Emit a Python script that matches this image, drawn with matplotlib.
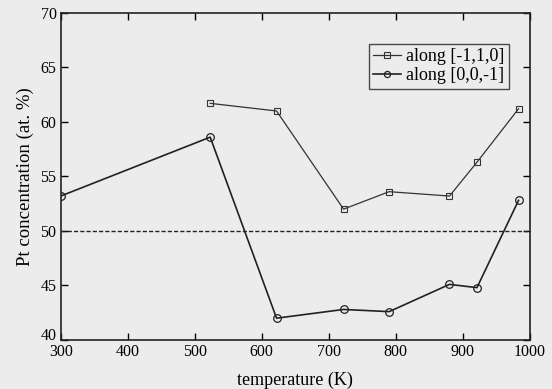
import matplotlib.pyplot as plt
from matplotlib.transforms import ScaledTranslation

# data
temp_sq = [523, 622, 722, 790, 880, 921, 983]
pt_sq = [61.7, 61.0, 52.0, 53.6, 53.2, 56.3, 61.2]

temp_ci = [300, 523, 622, 722, 790, 880, 921, 983]
pt_ci = [53.2, 58.6, 42.0, 42.8, 42.6, 45.1, 44.8, 52.8]

xticks = [300, 400, 500, 600, 700, 800, 900, 1000]
yticks = [40, 45, 50, 55, 60, 65, 70]

plt.rcParams['font.family'] = ['Liberation Serif', 'DejaVu Serif']

bg = '#ececec'
fig = plt.figure(figsize=(5.52, 3.89), dpi=100, facecolor=bg)
ax = fig.add_axes([0.11, 0.126, 0.85, 0.841])
ax.set_facecolor(bg)

ax.plot(temp_sq, pt_sq, color='#333333', lw=0.9, marker='s', ms=5,
        mfc='none', mec='#333333', mew=0.8, label='along [-1,1,0]')
ax.plot(temp_ci, pt_ci, color='#222222', lw=1.2, marker='o', ms=5.5,
        mfc='none', mec='#222222', mew=0.9, label='along [0,0,-1]')
ax.axhline(50, color='#222222', lw=1.0, ls=(0, (3, 1.5)))

ax.set_xlim(300, 1000)
ax.set_ylim(40, 70)
ax.set_xticks(xticks)
ax.set_yticks(yticks)
ax.tick_params(direction='in', top=True, right=True, length=5, width=1,
               labelsize=11.5, pad=3)
for s in ax.spines.values():
    s.set_linewidth(1.2)
    s.set_color('#222222')

# the bottom "40" sits a little above the "300" in the original
fig.canvas.draw()
lab40 = ax.get_yticklabels()[0]
lab40.set_transform(lab40.get_transform() + ScaledTranslation(0, 4 / 72, fig.dpi_scale_trans))

ax.set_xlabel('temperature (K)', fontsize=13, labelpad=8)
ax.set_ylabel('Pt concentration (at. %)', fontsize=13.5, labelpad=5)

leg = ax.legend(loc='upper right', bbox_to_anchor=(0.955, 0.905),
                fontsize=13, frameon=True, fancybox=False,
                handlelength=1.5, handletextpad=0.3, borderpad=0.25,
                labelspacing=0.1, borderaxespad=0, markerscale=0.8)
leg.get_frame().set_edgecolor('#222222')
leg.get_frame().set_linewidth(1.0)
leg.get_frame().set_facecolor(bg)

fig.savefig('out.png', dpi=100, facecolor=bg)
plt.close(fig)
